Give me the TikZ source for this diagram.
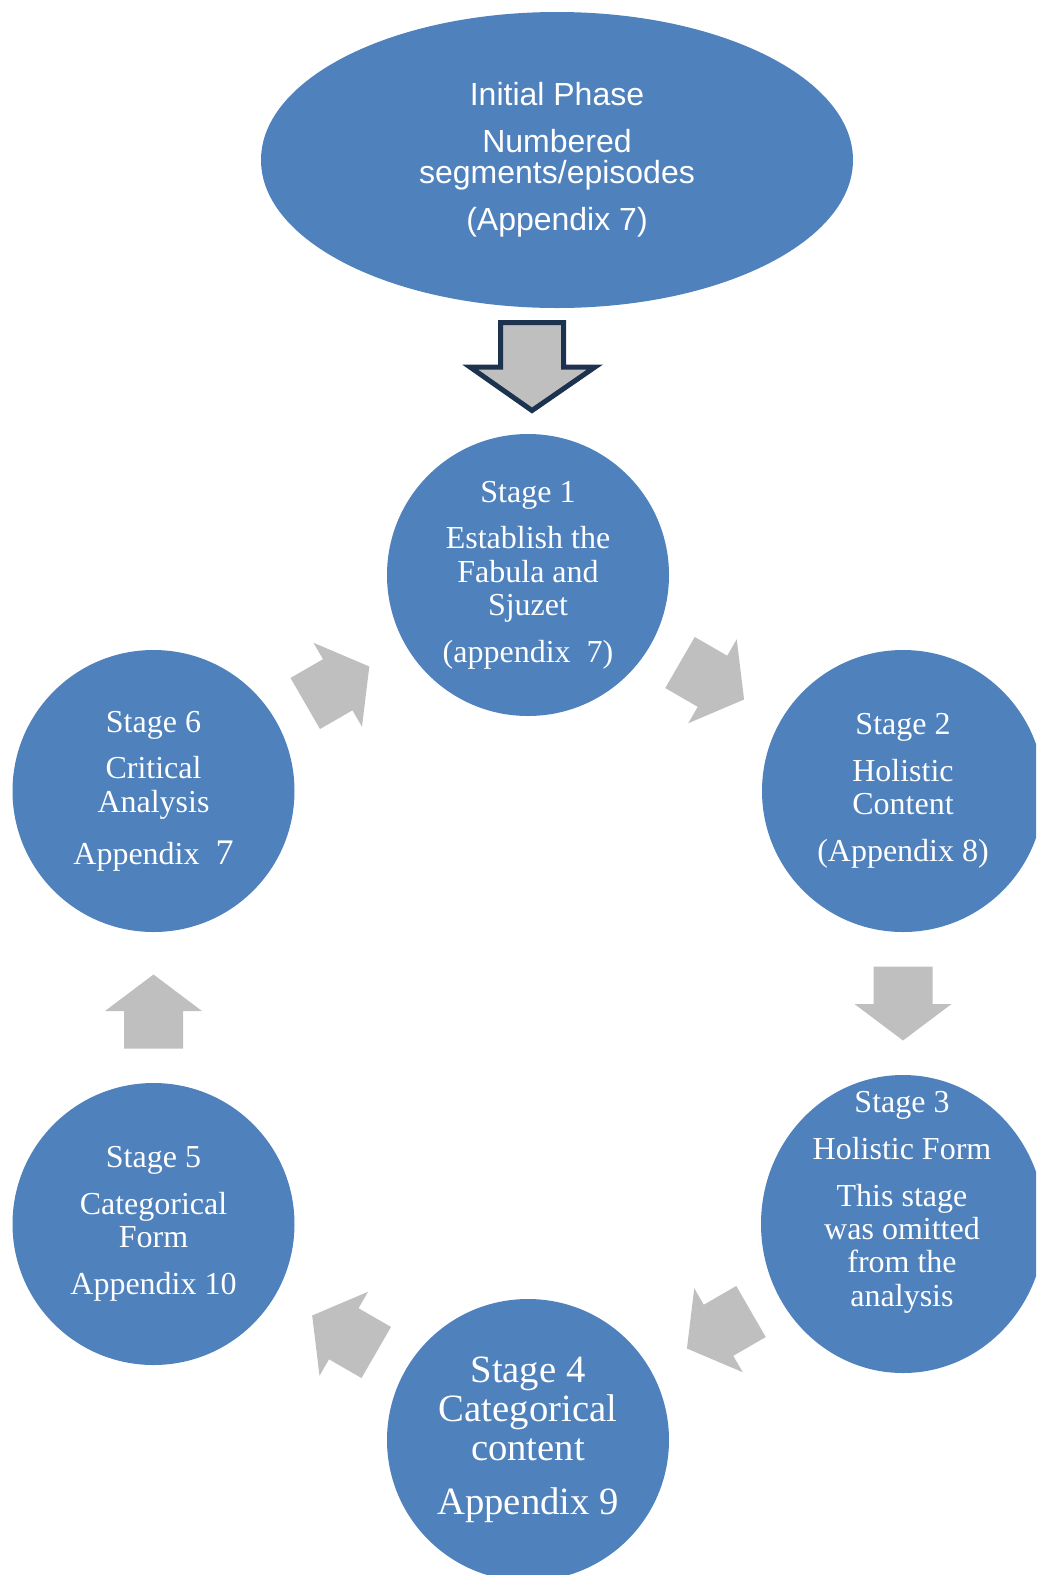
\documentclass[tikz,border=0pt]{standalone}
\usepackage{fontspec}
\setmainfont{Liberation Serif}
\newfontfamily\phasefont{Liberation Sans}
\usepackage{tikz}
\usetikzlibrary{calc, shapes.geometric}
\definecolor{stageBlue}{RGB}{79,129,189}
\definecolor{arrowGrey}{RGB}{191,191,191}
\definecolor{arrowNavy}{RGB}{28,50,78}

\tikzset{
  stage/.style={circle, fill=stageBlue, text=white, inner sep=0pt,
    minimum size=211.5pt, align=center, font=\fontsize{24}{25}\selectfont},
  stagetext/.style={text=white, align=center, font=\fontsize{24}{25}\selectfont},
}

\begin{document}
\begin{tikzpicture}[x=0.75pt, y=0.75pt]
  \useasboundingbox (0,0) rectangle (1036,-1575);
  \clip (0,0) rectangle (1036,-1575);

  % initial phase on top
  \node[ellipse, fill=stageBlue, text=white, inner sep=0pt,
        minimum width=444pt, minimum height=222pt, align=center,
        font=\phasefont\fontsize{24}{23.5}\selectfont] (init) at (557,-160)
    {Initial Phase\\[11.5pt] Numbered\\ segments/episodes\\[11.5pt] (Appendix 7)};

  \draw[arrowNavy, fill=arrowGrey, line width=3.75pt]
    (500.5,-322.5) -- (563.5,-322.5) -- (563.5,-367) -- (595,-367)
    -- (532,-410.5) -- (470,-367) -- (500.5,-367) -- cycle;

  % the six stages
  \node[stage] (s1) at (528,-575)
    {Stage 1\\[10pt] Establish the\\ Fabula and\\ Sjuzet\\[10pt] (appendix\ \ 7)};
  \node[stage] (s2) at (903,-791)
    {Stage 2\\[10pt] Holistic\\ Content\\[10pt] (Appendix 8)};
  \node[stage, ellipse, minimum width=213pt, minimum height=223.5pt] (s3) at (903,-1224) {};
  \node[stagetext] (s3txt) at (902,-1202.5)
    {Stage 3\\[10pt] Holistic Form\\[10pt] This stage\\ was omitted\\ from the\\ analysis};
  \node[stage, font=\fontsize{29}{29}\selectfont] (s4) at (528,-1440)
    {Stage 4\\ Categorical\\ content\\[12pt] Appendix 9};
  \node[stage] (s5) at (153.5,-1224)
    {Stage 5\\[10pt] Categorical\\ Form\\[10pt] Appendix 10};
  \node[stage] (s6) at (153.5,-791)
    {Stage 6\\[10pt] Critical\\ Analysis\\[14pt] Appendix\ \ {\fontsize{27}{25}\selectfont 7}};

  % block arrows round the cycle
  \foreach \a/\b/\ang in {s1/s2/-30, s2/s3/-90, s3/s4/-150, s4/s5/150, s5/s6/90, s6/s1/30}
    \fill[arrowGrey, shift={($(\a)!0.5!(\b)$)}, rotate=\ang]
      (-41,-29.5) -- (-3.5,-29.5) -- (-3.5,-48.5) -- (33,0)
      -- (-3.5,48.5) -- (-3.5,29.5) -- (-41,29.5) -- cycle;
\end{tikzpicture}
\end{document}
